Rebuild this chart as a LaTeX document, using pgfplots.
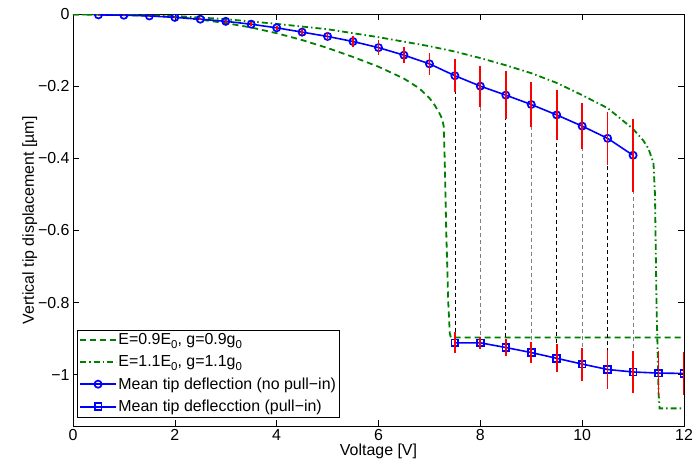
\documentclass[border=0pt]{standalone}
\usepackage{fontspec}
\setmainfont{Liberation Sans}
\usepackage{pgfplots}
\usepackage{pgfplotstable}
\pgfplotsset{compat=1.18}
\definecolor{mgreen}{rgb}{0,0.5,0}
\newcommand\sub[1]{\raisebox{-0.45ex}{\fontsize{11.5}{12}\selectfont #1}}

\pgfplotstableread{
x y e
0.5 -0.001 0.001
1.0 -0.002 0.001
1.5 -0.004 0.0015
2.0 -0.008 0.002
2.5 -0.013 0.003
3.0 -0.019 0.004
3.5 -0.027 0.005
4.0 -0.037 0.006
4.5 -0.049 0.008
5.0 -0.061 0.011
5.5 -0.075 0.015
6.0 -0.092 0.020
6.5 -0.113 0.023
7.0 -0.137 0.031
7.5 -0.170 0.045
8.0 -0.199 0.057
8.5 -0.224 0.066
9.0 -0.250 0.063
9.5 -0.279 0.070
10.0 -0.310 0.064
10.5 -0.344 0.073
11.0 -0.391 0.102
}\nopull

\pgfplotstableread{
x y e
7.5 -0.912 0.029
8.0 -0.912 0.016
8.5 -0.925 0.024
9.0 -0.939 0.030
9.5 -0.955 0.039
10.0 -0.971 0.046
10.5 -0.986 0.054
11.0 -0.993 0.059
11.5 -0.996 0.060
12.0 -0.997 0.060
}\pullin

\pgfplotstableread{
x y
0 0
0.5 -0.0003
1 -0.001
1.5 -0.003
2 -0.007
2.5 -0.014
3 -0.024
3.5 -0.036
4 -0.052
4.5 -0.071
5 -0.093
5.5 -0.118
6 -0.145
6.5 -0.178
6.8 -0.205
7 -0.232
7.1 -0.251
7.2 -0.275
7.25 -0.29
7.28 -0.31
7.30 -0.40
7.33 -0.60
7.37 -0.80
7.40 -0.885
7.42 -0.897
12 -0.897
}\lowE

\pgfplotstableread{
x y
0 0
1 -0.001
2 -0.004
3 -0.013
4 -0.026
5 -0.041
6 -0.063
7 -0.088
7.5 -0.103
8 -0.121
8.5 -0.141
9 -0.163
9.5 -0.190
10 -0.224
10.5 -0.260
11 -0.318
11.2 -0.350
11.3 -0.372
11.4 -0.412
11.43 -0.50
11.46 -0.80
11.50 -1.05
11.52 -1.094
12 -1.094
}\highE

\begin{document}
\begin{tikzpicture}
\useasboundingbox (-73bp,-44bp) rectangle (621bp,426bp);
\begin{axis}[
  at={(0,0)}, anchor=south west,
  scale only axis,
  width=611bp, height=411.5bp,
  xmin=0, xmax=12, ymin=-1.143, ymax=0,
  xtick={0,2,...,12},
  ytick={-1,-0.8,-0.6,-0.4,-0.2,0},
  yticklabels={−1,−0.8,−0.6,−0.4,−0.2,0},
  /pgf/number format/assume math mode=true,
  font=\fontsize{16}{19}\selectfont,
  tick align=inside,
  major tick length=6bp,
  every tick/.style={black, line width=0.6bp},
  axis line style={line width=0.6bp},
  clip marker paths=true,
  xlabel={Voltage [V]},
  ylabel={Vertical tip displacement [µm]},
  xlabel style={yshift=4bp},
  ylabel style={yshift=-6bp},
  legend cell align=left,
  legend style={at={(0.0065,0.022)}, anchor=south west, draw=black,
    font=\fontsize{16}{19}\selectfont,
    inner sep=2bp, row sep=6.5bp,
    nodes={inner sep=1.5bp}},
  legend image code/.code={\draw[mark repeat=2,mark phase=2] plot coordinates {(0bp,0bp) (18bp,0bp) (36bp,0bp)};},
]
\addplot[mgreen, line width=1.8bp, dash pattern=on 6bp off 4bp] table[x=x,y=y] {\lowE};
\addlegendentry{E=0.9E\sub{0}, g=0.9g\sub{0}}
\addplot[mgreen, line width=1.8bp, dash pattern=on 6bp off 3bp on 1.5bp off 3bp] table[x=x,y=y] {\highE};
\addlegendentry{E=1.1E\sub{0}, g=1.1g\sub{0}}

\addplot[forget plot, black, line width=0.7bp, dash pattern=on 4bp off 3bp] coordinates {(7.5,-0.170) (7.5,-0.912)};
\addplot[forget plot, black!50, line width=1bp, dash pattern=on 4bp off 3bp] coordinates {(8.0,-0.199) (8.0,-0.912)};
\addplot[forget plot, black, line width=0.7bp, dash pattern=on 4bp off 3bp] coordinates {(8.5,-0.224) (8.5,-0.925)};
\addplot[forget plot, black!50, line width=1bp, dash pattern=on 4bp off 3bp] coordinates {(9.0,-0.250) (9.0,-0.939)};
\addplot[forget plot, black, line width=0.7bp, dash pattern=on 4bp off 3bp] coordinates {(9.5,-0.279) (9.5,-0.955)};
\addplot[forget plot, black!50, line width=1bp, dash pattern=on 4bp off 3bp] coordinates {(10.0,-0.310) (10.0,-0.971)};
\addplot[forget plot, black, line width=0.7bp, dash pattern=on 4bp off 3bp] coordinates {(10.5,-0.344) (10.5,-0.986)};
\addplot[forget plot, black!50, line width=1bp, dash pattern=on 4bp off 3bp] coordinates {(11.0,-0.391) (11.0,-0.993)};

\addplot[blue, line width=1.6bp, mark=o, mark size=3.6bp, mark options={solid, line width=1.7bp}] table[x=x,y=y] {\nopull};
\addlegendentry{Mean tip deflection (no pull−in)}
\addplot[blue, line width=1.6bp, mark=square, mark size=3.4bp, mark options={solid, line width=1.7bp}] table[x=x,y=y] {\pullin};
\addlegendentry{Mean tip deflecction (pull−in)}

\addplot[forget plot, draw=none, mark=none, error bars/.cd, y dir=both, y explicit, error mark=none,
  error bar style={draw=red, solid, line width=1.7bp}] table[x=x,y=y,y error=e] {\nopull};
\addplot[forget plot, draw=none, mark=none, error bars/.cd, y dir=both, y explicit, error mark=none,
  error bar style={draw=red, solid, line width=1.7bp}] table[x=x,y=y,y error=e] {\pullin};
\end{axis}
\end{tikzpicture}
\end{document}
